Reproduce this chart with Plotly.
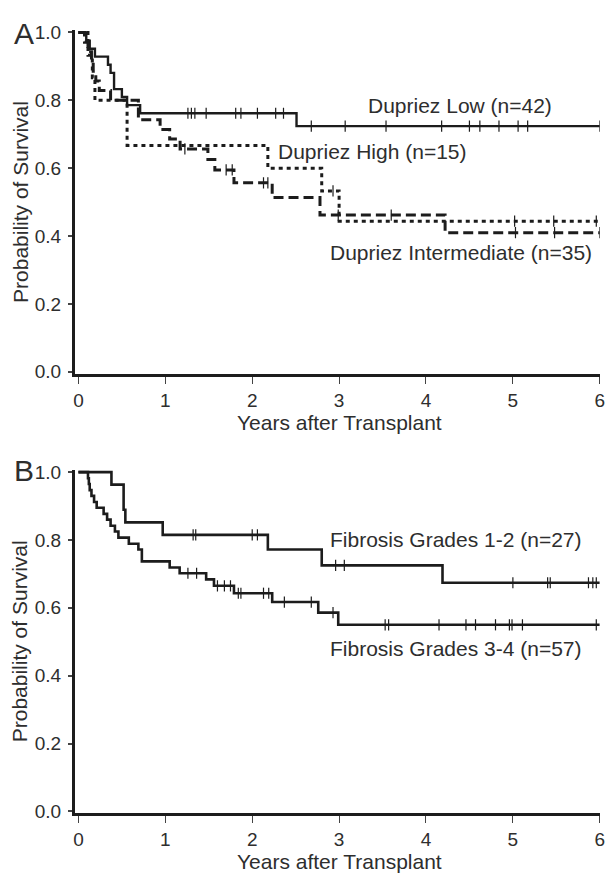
import plotly.graph_objects as go

# ---------------- data ----------------
# Panel A : Dupriez classification
low_t = [0.09, 0.13, 0.19, 0.34, 0.37, 0.41, 0.50, 0.56, 0.71, 2.51]
low_s = [0.976, 0.952, 0.929, 0.905, 0.881, 0.833, 0.810, 0.786, 0.762, 0.724]
low_c = [1.26, 1.30, 1.34, 1.47, 1.81, 1.87, 2.06, 2.27, 2.36, 2.68, 3.07, 3.54,
         4.18, 4.50, 4.62, 4.84, 5.06, 5.17, 6.0]

high_t = [0.11, 0.16, 0.19, 0.56, 2.18, 2.80, 3.00]
high_s = [0.933, 0.867, 0.800, 0.667, 0.600, 0.533, 0.444]
high_c = [2.93, 5.02, 5.47, 5.96]

int_t = [0.07, 0.11, 0.15, 0.17, 0.20, 0.24, 0.37, 0.69, 0.94, 1.05, 1.17,
         1.49, 1.57, 1.79, 2.23, 2.78, 4.22]
int_s = [0.971, 0.943, 0.914, 0.886, 0.857, 0.829, 0.800, 0.743, 0.714, 0.686,
         0.657, 0.626, 0.595, 0.557, 0.514, 0.462, 0.410]
int_c = [1.225, 1.70, 1.77, 2.13, 2.18, 2.99, 3.60, 5.03, 5.48, 6.0]

# Panel B : fibrosis grades
g12_t = [0.38, 0.52, 0.54, 0.97, 2.18, 2.80, 4.19]
g12_s = [0.963, 0.889, 0.852, 0.815, 0.772, 0.725, 0.674]
g12_c = [1.32, 1.35, 2.00, 2.06, 2.96, 3.06, 5.00, 5.40, 5.43, 5.87, 5.92, 5.96]

g34_t = [0.11, 0.12, 0.13, 0.15, 0.18, 0.21, 0.29, 0.33, 0.37, 0.42, 0.46, 0.58,
         0.69, 0.73, 1.05, 1.165, 1.47, 1.56, 1.79, 2.23, 2.76, 2.99]
g34_s = [0.982, 0.965, 0.947, 0.930, 0.912, 0.895, 0.877, 0.860, 0.842, 0.825,
         0.807, 0.789, 0.772, 0.737, 0.719, 0.702, 0.684, 0.665, 0.643, 0.617,
         0.586, 0.550]
g34_c = [1.26, 1.36, 1.60, 1.68, 1.75, 1.84, 1.87, 2.13, 2.19, 2.37, 2.68, 2.93,
         3.53, 3.57, 4.15, 4.46, 4.57, 4.80, 4.96, 4.99, 5.11, 5.96]

x_ticks = [0, 1, 2, 3, 4, 5, 6]
y_ticks = [0.0, 0.2, 0.4, 0.6, 0.8, 1.0]
T_END = 6.0

FONT = "Liberation Sans, Arial, sans-serif"
LINE = "#1c1c1c"
TXT = "#2e2e2e"


def step_xy(t, s):
    xs = [0.0] + list(t) + [T_END]
    ys = [1.0] + list(s) + [s[-1]]
    return xs, ys


def surv_at(t, s, c):
    out = []
    for ci in c:
        v = 1.0
        for ti, si in zip(t, s):
            if ti <= ci:
                v = si
        out.append(v)
    return out


fig = go.Figure()


def add_curve(t, s, c, dash, xa, ya, width=2.6):
    xs, ys = step_xy(t, s)
    fig.add_trace(go.Scatter(x=xs, y=ys, mode="lines", line_shape="hv",
                             line=dict(color=LINE, width=width, dash=dash),
                             xaxis=xa, yaxis=ya, showlegend=False,
                             hoverinfo="skip"))
    fig.add_trace(go.Scatter(x=c, y=surv_at(t, s, c), mode="markers",
                             marker=dict(symbol="line-ns", size=8,
                                         line=dict(color=LINE, width=1.2)),
                             xaxis=xa, yaxis=ya, showlegend=False,
                             hoverinfo="skip"))


add_curve(low_t, low_s, low_c, "solid", "x", "y", 2.4)
add_curve(high_t, high_s, high_c, "4px,4px", "x", "y", 3)
add_curve(int_t, int_s, int_c, "10px,5px", "x", "y", 3)
add_curve(g12_t, g12_s, g12_c, "solid", "x2", "y2", 2.6)
add_curve(g34_t, g34_s, g34_c, "solid", "x2", "y2", 2.6)

W, H = 611, 877
xdom = [73.8 / W, 604.7 / W]
ydomA = [1 - 373.1 / H, 1 - 22.9 / H]
ydomB = [1 - 821.4 / H, 1 - 471.2 / H]

xax = dict(range=[-0.04, 6.0], tickvals=x_ticks, ticks="outside", ticklen=7,
           tickwidth=1, tickcolor="#444", showline=True, linewidth=3,
           linecolor=LINE, showgrid=False, zeroline=False,
           tickfont=dict(family=FONT, size=19, color=TXT), domain=xdom)
yax = dict(range=[-0.006, 1.006], tickvals=y_ticks, tickformat=".1f",
           ticks="outside", ticklen=4, tickwidth=1.5, tickcolor="#444",
           ticklabelstandoff=3,
           showline=True, linewidth=3, linecolor=LINE, showgrid=False,
           zeroline=False, tickfont=dict(family=FONT, size=19, color=TXT))

fig.update_layout(
    width=W, height=H, plot_bgcolor="white", paper_bgcolor="white",
    margin=dict(l=0, r=0, t=0, b=0, pad=0),
    xaxis=dict(xax, anchor="y"),
    yaxis=dict(yax, domain=ydomA, anchor="x"),
    xaxis2=dict(xax, anchor="y2"),
    yaxis2=dict(yax, domain=ydomB, anchor="x2"),
)

ann = []


def txt(text, x, y, xref, yref, size=21, xanchor="left", yanchor="middle",
        angle=0):
    ann.append(dict(text=text, x=x, y=y, xref=xref, yref=yref, showarrow=False,
                    xanchor=xanchor, yanchor=yanchor, textangle=angle,
                    font=dict(family=FONT, size=size, color=TXT)))


# panel letters
txt("A", 22 / W, 1 - 26 / H, "paper", "paper", size=30, xanchor="center")
txt("B", 22 / W, 1 - 472 / H, "paper", "paper", size=30, xanchor="center")
# y titles
txt("Probability of Survival", 18 / W, 1 - 198 / H, "paper", "paper",
    xanchor="center", angle=-90)
txt("Probability of Survival", 18 / W, 1 - 646 / H, "paper", "paper",
    xanchor="center", angle=-90)
# x titles
txt("Years after Transplant", 341 / W, 1 - 409 / H, "paper", "paper",
    xanchor="center", yanchor="top")
txt("Years after Transplant", 341 / W, 1 - 857 / H, "paper", "paper",
    xanchor="center", yanchor="top")
# curve labels
txt("Dupriez Low (n=42)", 3.31, 0.786, "x", "y")
txt("Dupriez High (n=15)", 2.27, 0.648, "x", "y")
txt("Dupriez Intermediate (n=35)", 2.87, 0.353, "x", "y")
txt("Fibrosis Grades 1-2 (n=27)", 2.87, 0.802, "x2", "y2")
txt("Fibrosis Grades 3-4 (n=57)", 2.87, 0.48, "x2", "y2")

fig.update_layout(annotations=ann)
fig.write_html("out.html", config={"displayModeBar": False},
               post_script="document.body.style.margin='0px';"
                           "document.body.style.overflow='hidden';")
